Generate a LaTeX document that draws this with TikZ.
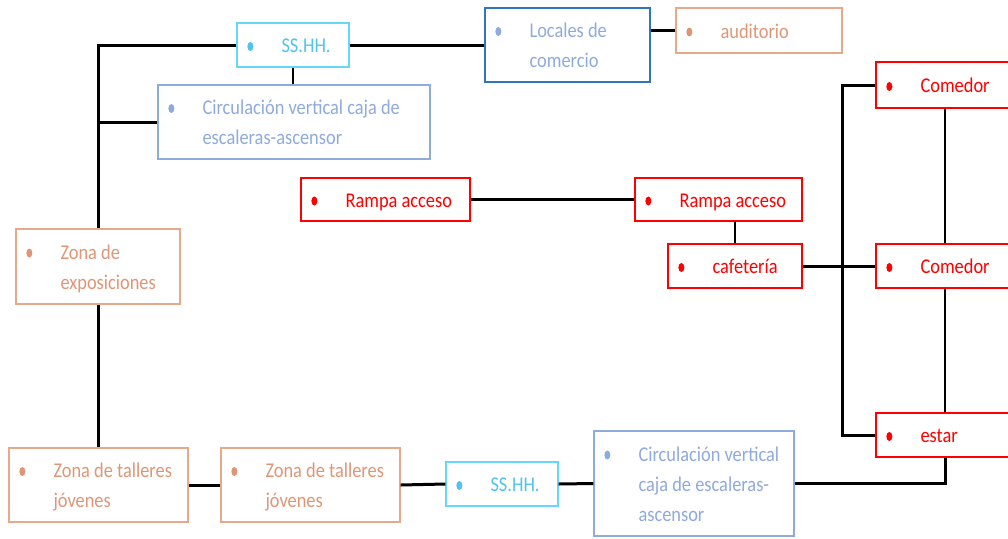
\documentclass[tikz,border=0pt]{standalone}
\usepackage{fontspec}
\setmainfont[FakeStretch=0.875]{Carlito}
\definecolor{cyB}{RGB}{102,214,250}
\definecolor{cyT}{RGB}{80,195,240}
\definecolor{locB}{RGB}{46,117,190}
\definecolor{lav}{RGB}{143,170,220}
\definecolor{salB}{RGB}{232,168,138}
\definecolor{salT}{RGB}{222,150,118}
\definecolor{rd}{RGB}{255,0,0}
\newcommand\lbl[4]{%
  \node[txt,text=#3,anchor=base west] (#1t) at ([xshift=45pt,yshift={(-15*(#2-1)-7.5)*1pt}]#1.west) {#4};
  \fill[#3] ([xshift=14pt,yshift={(15*(#2-1)-1.5)*1pt}]#1.west) ellipse [x radius=3pt, y radius=4.5pt];
}
\begin{document}
\begin{tikzpicture}[x=1pt,y=-1pt,
  bx/.style={draw,line width=1.3pt,inner sep=0pt,fill=none},
  txt/.style={font=\fontsize{21}{30}\selectfont,align=left,inner sep=0pt},
  con/.style={line width=3pt,black},
  thn/.style={line width=2.2pt,black}]
\useasboundingbox (0,0) rectangle (1008,538);
% boxes
\node[bx,draw=cyB,minimum width=112pt,minimum height=44pt] (ssA) at (293,45) {};
\node[bx,draw=locB,minimum width=165pt,minimum height=74pt] (loc) at (567.5,45) {};
\node[bx,draw=salB,minimum width=166pt,minimum height=45pt] (aud) at (759,30.5) {};
\node[bx,draw=lav,minimum width=272pt,minimum height=74pt] (cirA) at (294,122) {};
\node[bx,draw=salB,minimum width=164pt,minimum height=75pt] (zex) at (98,266.5) {};
\node[bx,draw=rd,minimum width=169pt,minimum height=43pt] (rp1) at (385.5,199.5) {};
\node[bx,draw=rd,minimum width=167pt,minimum height=43pt] (rp2) at (718.5,199.5) {};
\node[bx,draw=rd,minimum width=134pt,minimum height=44pt] (caf) at (735,266) {};
\node[bx,draw=rd,minimum width=138pt,minimum height=46pt] (com1) at (945,85) {};
\node[bx,draw=rd,minimum width=138pt,minimum height=44pt] (com2) at (945,266) {};
\node[bx,draw=rd,minimum width=138pt,minimum height=44pt] (est) at (945,435) {};
\node[bx,draw=salB,minimum width=179pt,minimum height=74pt] (zt1) at (98.5,485) {};
\node[bx,draw=salB,minimum width=179pt,minimum height=74pt] (zt2) at (310.5,485) {};
\node[bx,draw=cyB,minimum width=112pt,minimum height=44pt] (ssB) at (502,484) {};
\node[bx,draw=lav,minimum width=200pt,minimum height=105pt] (cirB) at (694,483.5) {};
% labels
\lbl{ssA}{1}{cyT}{SS.HH.}
\lbl{loc}{2}{lav}{Locales de\\comercio}
\lbl{aud}{1}{salT}{auditorio}
\lbl{cirA}{2}{lav}{Circulación vertical caja de\\escaleras-ascensor}
\lbl{zex}{2}{salT}{Zona de\\exposiciones}
\lbl{rp1}{1}{rd}{Rampa acceso}
\lbl{rp2}{1}{rd}{Rampa acceso}
\lbl{caf}{1}{rd}{cafetería}
\lbl{com1}{1}{rd}{Comedor}
\lbl{com2}{1}{rd}{Comedor}
\lbl{est}{1}{rd}{estar}
\lbl{zt1}{2}{salT}{Zona de talleres\\jóvenes}
\lbl{zt2}{2}{salT}{Zona de talleres\\jóvenes}
\lbl{ssB}{1}{cyT}{SS.HH.}
\lbl{cirB}{3}{lav}{Circulación vertical\\caja de escaleras-\\ascensor}
% connectors
\coordinate (vx) at (842,0);
\draw[con] (ssA.west) -| (zex.north);
\draw[con] (zex.south) -- (zex.south |- zt1.north);
\draw[con] (zex.north |- cirA.west) -- (cirA.west);
\draw[thn] (ssA.south) -- (ssA.south |- cirA.north);
\draw[con] (ssA.east) -- (loc.west);
\draw[con] (aud.west -| loc.east) -- (aud.west);
\draw[con] (rp1.east) -- (rp2.west);
\draw[thn] (caf.north |- rp2.south) -- (caf.north);
\draw[con] (caf.east) -- (com2.west);
\draw[con] (com1.west) -| (vx |- est.west) -- (est.west);
\draw[thn] (com1.south) -- (com2.north);
\draw[thn] (com2.south) -- (est.north);
\draw[con] (est.south) |- (cirB.east);
\draw[con] (zt1.east) -- (zt2.west);
\draw[con] (zt2.east) -- (ssB.west);
\draw[con] (ssB.east) -- (cirB.west);
\end{tikzpicture}
\end{document}
